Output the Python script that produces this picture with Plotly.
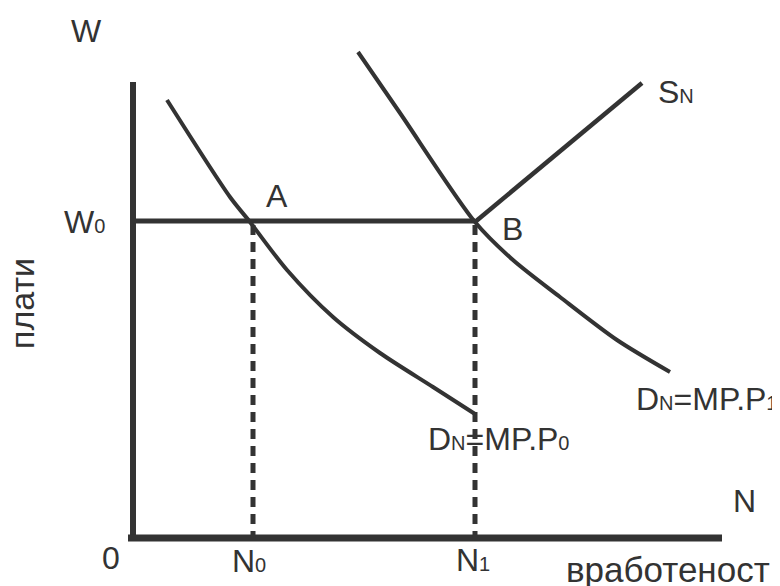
import plotly.graph_objects as go

# --- data (diagram units; origin at the axes' corner) ---
d0_x = [34, 97, 117, 154, 200, 247, 300, 342]
d0_y = [438, 341, 316, 268, 221, 185, 151, 124]

d1_x = [225, 267, 342, 380, 427, 484, 537]
d1_y = [486, 425, 316, 278, 241, 198, 166]

sn_x = [342, 509]
sn_y = [316, 455]

w0 = 317
n0 = 120
n1 = 342

yaxis_top = 456
xaxis_left = -5
xaxis_right = 589

INK = "#333333"
FONT = "Liberation Sans, Arial, sans-serif"

fig = go.Figure()

def line(x, y, w, dash=None, shape="linear"):
    fig.add_trace(go.Scatter(x=x, y=y, mode="lines",
                             line=dict(color=INK, width=w, dash=dash,
                                       shape=shape, smoothing=0.8),
                             hoverinfo="skip", showlegend=False))

# axes
line([0, 0], [-2, yaxis_top], 6)
line([xaxis_left, xaxis_right], [0, 0], 7)
# W0 level
line([0, n1], [w0, w0], 5)
# dashed drops
line([n0, n0], [w0 - 4, 0], 5, dash="10px,7px")
line([n1, n1], [w0 - 4, 0], 5, dash="10px,7px")
# curves
line(d0_x, d0_y, 4, shape="spline")
line(d1_x, d1_y, 4, shape="spline")
line(sn_x, sn_y, 4.5)

def sub(t):
    return '<span style="font-size:20px">%s</span>' % t

labels = [
    ("W", -47, 507),
    ("W" + sub("0"), -49, 316),
    ("A", 144, 342),
    ("B", 379, 309),
    ("S" + sub("N"), 543, 446),
    ("D" + sub("N") + "=MP.P" + sub("1"), 573, 139),
    ("D" + sub("N") + "=MP.P" + sub("0"), 365, 99),
    ("0", -22, -20),
    ("N" + sub("0"), 116, -23),
    ("N" + sub("1"), 340, -22),
    ("N", 611, 37),
]
for txt, x, y in labels:
    fig.add_annotation(x=x, y=y, text=txt, showarrow=False,
                       font=dict(family=FONT, size=32, color=INK),
                       xanchor="center", yanchor="middle")

fig.add_annotation(x=535, y=-31, text="вработеност", showarrow=False,
                   font=dict(family=FONT, size=35, color=INK),
                   xanchor="center", yanchor="middle")
fig.add_annotation(x=-111, y=234, text="плати", showarrow=False, textangle=-90,
                   font=dict(family=FONT, size=34, color=INK),
                   xanchor="center", yanchor="middle")

# page body has an 8px margin: size/range chosen so the diagram lands in place
fig.update_layout(
    width=772, height=578,
    margin=dict(l=0, r=0, t=0, b=0),
    paper_bgcolor="white", plot_bgcolor="white",
    xaxis=dict(range=[-125, 647], visible=False, fixedrange=True),
    yaxis=dict(range=[-48, 530], visible=False, fixedrange=True),
    showlegend=False,
)

fig.write_html("out.html")
